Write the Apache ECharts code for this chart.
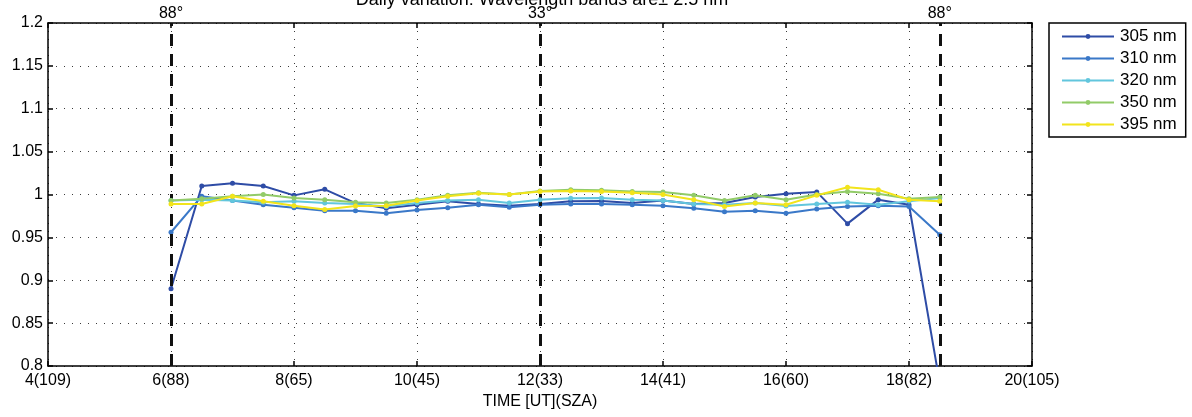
<!DOCTYPE html>
<html>
<head>
<meta charset="utf-8">
<script src="https://cdn.jsdelivr.net/npm/echarts@6/dist/echarts.min.js"></script>
<style>
html,body{margin:0;padding:0;background:#fff;}
#chart{width:1192px;height:417px;}
</style>
</head>
<body>
<div id="chart"></div>
<script>
const times = [6, 6.5, 7, 7.5, 8, 8.5, 9, 9.5, 10, 10.5, 11, 11.5, 12, 12.5, 13, 13.5, 14, 14.5, 15, 15.5, 16, 16.5, 17, 17.5, 18, 18.5];
const s305 = [0.890, 1.010, 1.013, 1.010, 0.999, 1.006, 0.990, 0.984, 0.988, 0.992, 0.989, 0.987, 0.989, 0.992, 0.9925, 0.990, 0.993, 0.989, 0.990, 0.997, 1.001, 1.003, 0.966, 0.994, 0.988, 0.780];
const s310 = [0.956, 0.998, 0.993, 0.988, 0.9845, 0.981, 0.981, 0.978, 0.982, 0.9845, 0.988, 0.985, 0.988, 0.989, 0.989, 0.988, 0.987, 0.984, 0.980, 0.981, 0.978, 0.983, 0.986, 0.987, 0.986, 0.953];
const s320 = [0.993, 0.994, 0.993, 0.991, 0.992, 0.990, 0.989, 0.986, 0.990, 0.993, 0.994, 0.990, 0.994, 0.9957, 0.996, 0.994, 0.993, 0.989, 0.988, 0.990, 0.9865, 0.989, 0.991, 0.988, 0.992, 0.996];
const s350 = [0.993, 0.995, 0.998, 1.000, 0.996, 0.994, 0.991, 0.990, 0.994, 0.999, 1.002, 1.000, 1.004, 1.0055, 1.005, 1.0035, 1.003, 0.999, 0.993, 0.999, 0.994, 1.000, 1.0035, 1.001, 0.995, 0.997];
const s395 = [0.989, 0.989, 0.998, 0.992, 0.987, 0.9825, 0.9865, 0.987, 0.993, 0.998, 1.0015, 1.000, 1.0035, 1.004, 1.0035, 1.002, 1.000, 0.994, 0.986, 0.990, 0.988, 0.999, 1.0085, 1.0055, 0.994, 0.992];
const seriesNames = ['305 nm', '310 nm', '320 nm', '350 nm', '395 nm'];
const xTickValues = [4, 6, 8, 10, 12, 14, 16, 18, 20];
const xTickLabels = ['4(109)', '6(88)', '8(65)', '10(45)', '12(33)', '14(41)', '16(60)', '18(82)', '20(105)'];
const yTickValues = [0.8, 0.85, 0.9, 0.95, 1, 1.05, 1.1, 1.15, 1.2];
const yTickLabels = ['0.8', '0.85', '0.9', '0.95', '1', '1.05', '1.1', '1.15', '1.2'];
const szaLineTimes = [6, 12, 18.5];
const szaLineLabels = ['88°', '33°', '88°'];
const titleText = 'Daily variation: Wavelength bands are± 2.5 nm';
const xName = 'TIME [UT](SZA)';

const colors = ['#2E4CA6', '#3A78C8', '#62C6DD', '#92CB68', '#F2E41C'];
const allSeries = [s305, s310, s320, s350, s395];
const FONT = 'Liberation Sans, Arial, sans-serif';

function xLabel(v) {
  for (let i = 0; i < xTickValues.length; i++) if (Math.abs(xTickValues[i] - v) < 1e-6) return xTickLabels[i];
  return '';
}
function yLabel(v) {
  for (let i = 0; i < yTickValues.length; i++) if (Math.abs(yTickValues[i] - v) < 1e-6) return yTickLabels[i];
  return '';
}

const gridLine = { show: true, lineStyle: { color: '#3a3a3a', width: 1, type: [1, 7] } };
const axisLine = { show: true, lineStyle: { color: '#000', width: 1.5 } };
const tick = { show: true, inside: true, length: 5, lineStyle: { color: '#000', width: 1.5 } };

const series = allSeries.map((d, i) => ({
  name: seriesNames[i],
  type: 'line',
  data: times.map((t, j) => [t, d[j]]),
  symbol: 'circle',
  symbolSize: 5,
  lineStyle: { width: 2, color: colors[i] },
  itemStyle: { color: colors[i] },
  clip: true,
  animation: false,
  z: 3 + i
}));

series.push({
  name: 'sza',
  type: 'line',
  data: [],
  silent: true,
  animation: false,
  markLine: {
    silent: true,
    symbol: 'none',
    animation: false,
    lineStyle: { color: '#111', width: 3, type: [12, 8] },
    label: {
      show: true,
      position: 'end',
      distance: 1,
      color: '#000',
      fontSize: 16,
      fontFamily: FONT,
      formatter: p => szaLineLabels[p.dataIndex]
    },
    data: szaLineTimes.map(t => ({ xAxis: t }))
  }
});

const chart = echarts.init(document.getElementById('chart'), null, { renderer: 'canvas' });
chart.setOption({
  backgroundColor: '#fff',
  animation: false,
  title: {
    text: titleText,
    left: 542,
    textAlign: 'center',
    top: -9,
    padding: 0,
    textStyle: { fontSize: 18, fontWeight: 'normal', color: '#000', fontFamily: FONT }
  },
  grid: { left: 48, right: 160, top: 23, bottom: 51, containLabel: false, outerBoundsMode: 'none' },
  legend: {
    data: seriesNames,
    orient: 'vertical',
    left: 1049,
    top: 23,
    padding: [5, 9, 4, 12],
    itemWidth: 52,
    itemHeight: 6,
    itemGap: 5,
    borderColor: '#000',
    borderWidth: 1.5,
    backgroundColor: '#fff',
    textStyle: { fontSize: 17, color: '#000', fontFamily: FONT, padding: [0, 0, 0, 1] }
  },
  xAxis: [
    {
      type: 'value', min: 4, max: 20, interval: 2, position: 'bottom',
      name: xName, nameLocation: 'middle', nameGap: 28,
      nameTextStyle: { fontSize: 16, color: '#000', fontFamily: FONT },
      axisLine: axisLine,
      axisTick: tick,
      axisLabel: { fontSize: 16, color: '#000', fontFamily: FONT, margin: 7, formatter: xLabel },
      splitLine: gridLine
    },
    {
      type: 'value', min: 4, max: 20, interval: 2, position: 'top',
      axisLine: axisLine,
      axisTick: tick,
      axisLabel: { show: false },
      splitLine: { show: false }
    }
  ],
  yAxis: [
    {
      type: 'value', min: 0.8, max: 1.2, interval: 0.05, position: 'left',
      axisLine: axisLine,
      axisTick: tick,
      axisLabel: { fontSize: 16, color: '#000', fontFamily: FONT, margin: 5, formatter: yLabel },
      splitLine: gridLine
    },
    {
      type: 'value', min: 0.8, max: 1.2, interval: 0.05, position: 'right',
      axisLine: axisLine,
      axisTick: tick,
      axisLabel: { show: false },
      splitLine: { show: false }
    }
  ],
  series: series
});
</script>
</body>
</html>
